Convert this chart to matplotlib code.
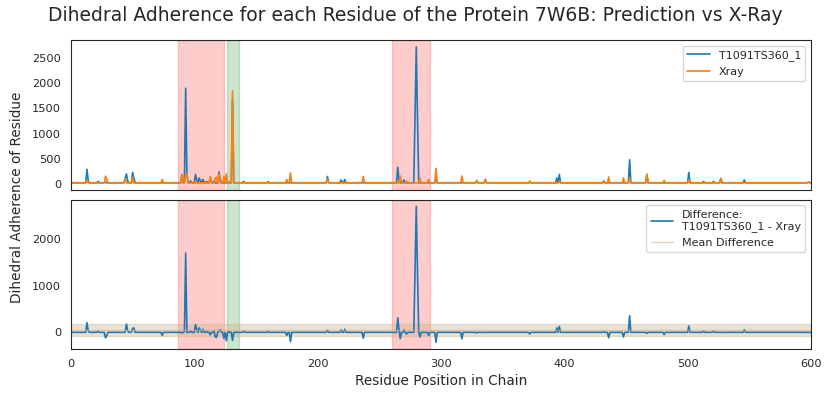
import numpy as np
import matplotlib
matplotlib.use('Agg')
import matplotlib.pyplot as plt
import seaborn as sns

sns.set_style('white')
plt.rcParams['font.family'] = ['DejaVu Sans']

# residues 1..600, values (baseline + peaks)
n_res = 600
pred_base = 25
xray_base = 22

pred_pos = [13, 14, 22, 28, 44, 45, 46, 50, 51, 90, 92, 93, 94, 97, 101, 102, 104, 105, 107, 110,
            113, 116, 120, 121, 128, 131, 140, 160, 208, 219, 222, 265, 266, 270, 279, 280, 281,
            296, 329, 336, 394, 396, 432, 453, 467, 501, 513, 521, 527, 546, 598]
pred_val = [290, 60, 50, 40, 120, 200, 60, 230, 120, 180, 40, 1900, 200, 60, 190, 80, 120, 60, 90, 50,
            100, 60, 240, 80, 40, 1680, 50, 45, 150, 80, 90, 335, 80, 80, 1400, 2720, 1300,
            100, 60, 90, 120, 190, 60, 480, 180, 230, 50, 50, 110, 80, 40]

xray_pos = [13, 28, 29, 44, 50, 74, 90, 93, 94, 113, 117, 118, 120, 124, 126, 131, 175, 178, 208, 237,
            267, 272, 283, 290, 296, 317, 329, 336, 372, 396, 432, 436, 448, 453, 467, 481, 501,
            527, 598]
xray_val = [80, 155, 100, 110, 140, 90, 190, 200, 200, 150, 120, 130, 200, 150, 200, 1850, 90, 220, 100, 150,
            160, 60, 120, 90, 310, 160, 70, 90, 60, 60, 40, 140, 120, 120, 200, 70, 90,
            110, 40]

# mean difference band
mean_diff = 45
std_diff = 130

red_spans = [(87, 124), (260, 291)]
green_spans = [(126.5, 136)]

residues = np.arange(1, n_res + 1)
pred = np.full(n_res, pred_base, dtype=float)
pred[np.array(pred_pos) - 1] = pred_val
xray = np.full(n_res, xray_base, dtype=float)
xray[np.array(xray_pos) - 1] = xray_val
diff = pred - xray

fig, (ax1, ax2) = plt.subplots(2, 1, figsize=(8.3, 3.94), dpi=100, sharex=True)
fig.subplots_adjust(left=0.0855, right=0.977, top=0.898, bottom=0.114, hspace=0.066)

for ax in (ax1, ax2):
    for a, b in red_spans:
        ax.axvspan(a, b, color='red', alpha=0.2)
    for a, b in green_spans:
        ax.axvspan(a, b, color='green', alpha=0.2)

ax1.plot(residues, pred, color='tab:blue', lw=1.2, label='T1091TS360_1')
ax1.plot(residues, xray, color='tab:orange', lw=1.2, label='Xray')
ax1.legend(loc='upper right', fontsize=8)

ax2.plot(residues, diff, color='tab:blue', lw=1.2, label='Difference:\nT1091TS360_1 - Xray')
ax2.axhline(mean_diff, color='tan', alpha=0.6, lw=1, label='Mean Difference')
ax2.fill_between([0, 600], mean_diff - std_diff, mean_diff + std_diff, color='tan', alpha=0.4)
ax2.legend(loc='upper right', fontsize=8)

ax2.set_xlim(0, 600)
ax2.set_yticks([0, 1000, 2000])
ax1.set_yticks([0, 500, 1000, 1500, 2000, 2500])
for ax in (ax1, ax2):
    ax.tick_params(labelsize=8.2)
ax2.set_xlabel('Residue Position in Chain', fontsize=9.8)
fig.supylabel('Dihedral Adherence of Residue', fontsize=9.8, x=0.012)
fig.suptitle('Dihedral Adherence for each Residue of the Protein 7W6B: Prediction vs X-Ray',
             fontsize=13.5, y=0.985)

fig.savefig('out.png', dpi=100)
